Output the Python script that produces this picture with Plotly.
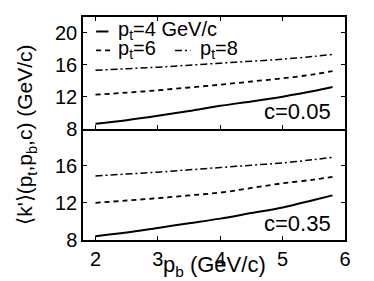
import plotly.graph_objects as go
from plotly.subplots import make_subplots

pb = [2.0, 2.5, 3.0, 3.5, 4.0, 4.5, 5.0, 5.5, 5.8]

# c = 0.05 (top panel)
k_top_pt4 = [8.6, 9.05, 9.6, 10.2, 10.85, 11.4, 12.0, 12.7, 13.2]
k_top_pt6 = [12.25, 12.5, 12.8, 13.15, 13.5, 13.9, 14.3, 14.8, 15.2]
k_top_pt8 = [15.3, 15.5, 15.7, 15.95, 16.2, 16.45, 16.7, 17.05, 17.3]

# c = 0.35 (bottom panel)
k_bot_pt4 = [8.4, 8.8, 9.3, 9.8, 10.3, 10.9, 11.5, 12.3, 12.8]
k_bot_pt6 = [12.0, 12.25, 12.5, 12.8, 13.1, 13.6, 14.1, 14.5, 14.8]
k_bot_pt8 = [14.9, 15.1, 15.3, 15.55, 15.8, 16.05, 16.3, 16.65, 16.9]

series_names = ["p<sub>t</sub>=4 GeV/c", "p<sub>t</sub>=6", "p<sub>t</sub>=8"]
panel_labels = ["c=0.05", "c=0.35"]
x_ticks = [2, 3, 4, 5, 6]
y_ticks_top = [8, 12, 16, 20]
y_ticks_bot = [8, 12, 16]

FONT = "Liberation Sans, Arial, sans-serif"
styles = [dict(width=2, dash="solid"),
          dict(width=1.8, dash="5px,4px"),
          dict(width=1.5, dash="7px,3px,2px,3px")]

fig = make_subplots(rows=2, cols=1, shared_xaxes=True, vertical_spacing=0)

for row, data in [(1, [k_top_pt4, k_top_pt6, k_top_pt8]), (2, [k_bot_pt4, k_bot_pt6, k_bot_pt8])]:
    for name, ys, st in zip(series_names, data, styles):
        fig.add_trace(go.Scatter(x=pb, y=ys, mode="lines", name=name, showlegend=False,
                                 line=dict(color="black", shape="spline", **st)), row=row, col=1)

axis_common = dict(showline=True, linecolor="black", linewidth=1.5, mirror="ticks",
                   ticks="inside", ticklen=4, tickwidth=1, tickcolor="black",
                   showgrid=False, zeroline=False,
                   tickfont=dict(family=FONT, size=20, color="black"))

fig.update_xaxes(range=[1.8, 6], tickvals=x_ticks, **axis_common)
fig.update_xaxes(showticklabels=False, row=1, col=1)
fig.update_xaxes(mirror=False, row=2, col=1)
fig.update_yaxes(**axis_common)
fig.update_yaxes(range=[8, 22], tickvals=y_ticks_top, row=1, col=1)
fig.update_yaxes(range=[8, 20], tickvals=y_ticks_bot, row=2, col=1)

# legend (drawn manually inside top panel)
leg_rows = [(0.05, 0.097, 0.126, 0.87), (0.05, 0.115, 0.126, 0.70), (0.351, 0.41, 0.44, 0.70)]
for (x0, x1, xt, yy), name, st in zip(leg_rows, series_names, styles):
    fig.add_shape(type="line", xref="x domain", yref="y domain", x0=x0, x1=x1, y0=yy, y1=yy,
                  line=dict(color="black", **st))
    fig.add_annotation(xref="x domain", yref="y domain", x=xt, y=yy + 0.01, text=name,
                       showarrow=False, xanchor="left", yanchor="middle",
                       font=dict(family=FONT, size=20, color="black"))

for i, lab in enumerate(panel_labels):
    fig.add_annotation(xref="x domain", yref=("y domain" if i == 0 else "y2 domain"),
                       x=0.955, y=0.02, text=lab, showarrow=False,
                       xanchor="right", yanchor="bottom",
                       font=dict(family=FONT, size=22, color="black"))

# axis titles
fig.add_annotation(xref="paper", yref="paper", x=0.5, y=-0.115, text="p<sub>b</sub> (GeV/c)",
                   showarrow=False, xanchor="center", yanchor="middle",
                   font=dict(family=FONT, size=22, color="black"))
fig.add_annotation(xref="paper", yref="paper", x=-0.215, y=0.47,
                   text="\u27e8k'\u27e9(p<sub>t</sub>,p<sub>b</sub>,c) (GeV/c)",
                   textangle=-90, showarrow=False, xanchor="center", yanchor="middle",
                   font=dict(family=FONT, size=21, color="black"))

fig.update_layout(width=374, height=281, margin=dict(l=75, r=37, t=7, b=49),
                  paper_bgcolor="white", plot_bgcolor="white", showlegend=False)

fig.write_html("out.html")
